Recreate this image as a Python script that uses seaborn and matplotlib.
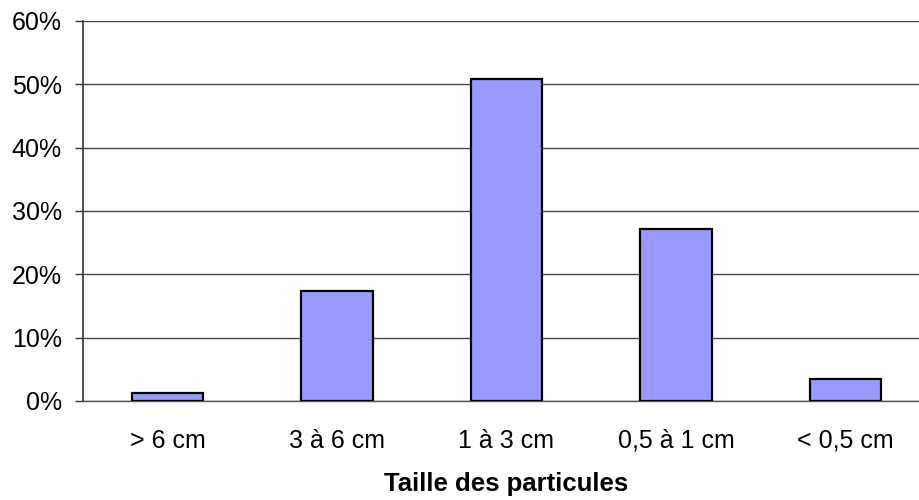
import numpy as np
import pandas as pd
import matplotlib
matplotlib.use("Agg")
import matplotlib.pyplot as plt
import seaborn as sns
from matplotlib.ticker import PercentFormatter

# données
categories = ["> 6 cm", "3 à 6 cm", "1 à 3 cm", "0,5 à 1 cm", "< 0,5 cm"]
pourcentages = [1.2, 17.4, 50.8, 27.1, 3.4]

df = pd.DataFrame({"taille": categories, "pct": pourcentages})

sns.set_theme(style="white")
plt.rcParams["font.family"] = ["Liberation Sans", "DejaVu Sans"]
plt.rcParams["text.color"] = "black"
plt.rcParams["xtick.color"] = "black"
plt.rcParams["ytick.color"] = "black"
plt.rcParams["axes.labelcolor"] = "black"

fig = plt.figure(figsize=(9.2, 5), dpi=100)
# la zone du graphique dépasse un peu à droite (coupée dans l'original)
ax = fig.add_axes([0.090, 0.198, 0.921, 0.760])

sns.barplot(data=df, x="taille", y="pct", order=categories, color="#9999FF",
            width=0.42, edgecolor="black", linewidth=1.6, saturation=1, ax=ax, zorder=3)

ax.set_ylim(0, 60)
ax.set_xlim(-0.5, len(categories) - 0.5)
ax.set_yticks(np.arange(0, 61, 10))
ax.yaxis.set_major_formatter(PercentFormatter(decimals=0))
ax.grid(axis="y", color="#444444", linewidth=1.0, zorder=0)
ax.set_axisbelow(True)

# ticks entre les catégories
ax.set_xticks(np.arange(-0.5, len(categories)), minor=True)
ax.tick_params(axis="x", which="major", length=0, pad=20, labelsize=18)
ax.tick_params(axis="x", which="minor", length=6, width=1, color="#555555", direction="out")
ax.tick_params(axis="y", length=6, width=1, color="#333333", pad=9, labelsize=18, left=True)

for s in ["top", "right"]:
    ax.spines[s].set_visible(False)
ax.spines["left"].set_color("#333333")
ax.spines["left"].set_linewidth(1.2)
ax.spines["bottom"].set_color("#555555")
ax.spines["bottom"].set_linewidth(1.0)

ax.set_xlabel("Taille des particules", fontsize=18.5, fontweight="bold", labelpad=14)
ax.set_ylabel("")

fig.savefig("out.png", dpi=100)
